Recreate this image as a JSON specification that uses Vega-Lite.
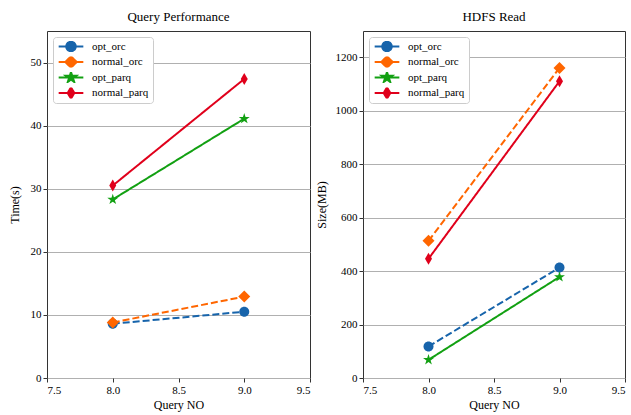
{
  "$schema": "https://vega.github.io/schema/vega-lite/v6.json",
  "padding": {"left": 7, "top": 10, "right": 5, "bottom": 5},
  "background": "white",
  "spacing": 53,
  "bounds": "flush",
  "data": {"values": [
    {"panel": "time", "series": "opt_orc", "q": 8, "v": 8.6},
    {"panel": "time", "series": "opt_orc", "q": 9, "v": 10.5},
    {"panel": "time", "series": "normal_orc", "q": 8, "v": 8.8},
    {"panel": "time", "series": "normal_orc", "q": 9, "v": 12.9},
    {"panel": "time", "series": "opt_parq", "q": 8, "v": 28.3},
    {"panel": "time", "series": "opt_parq", "q": 9, "v": 41.1},
    {"panel": "time", "series": "normal_parq", "q": 8, "v": 30.5},
    {"panel": "time", "series": "normal_parq", "q": 9, "v": 47.4},
    {"panel": "size", "series": "opt_orc", "q": 8, "v": 118},
    {"panel": "size", "series": "opt_orc", "q": 9, "v": 413},
    {"panel": "size", "series": "normal_orc", "q": 8, "v": 513},
    {"panel": "size", "series": "normal_orc", "q": 9, "v": 1160},
    {"panel": "size", "series": "opt_parq", "q": 8, "v": 68},
    {"panel": "size", "series": "opt_parq", "q": 9, "v": 378},
    {"panel": "size", "series": "normal_parq", "q": 8, "v": 446},
    {"panel": "size", "series": "normal_parq", "q": 9, "v": 1110}
  ]},
  "resolve": {"legend": {"color": "independent"}, "scale": {"y": "independent"}},
  "config": {
    "font": "Liberation Serif",
    "view": {"stroke": "#333", "strokeWidth": 1},
    "title": {"font": "Liberation Serif", "fontSize": 13, "fontWeight": "normal", "color": "black", "offset": 7},
    "axis": {
      "labelFont": "Liberation Serif", "labelFontSize": 11, "labelColor": "black",
      "titleFont": "Liberation Serif", "titleFontSize": 12, "titleFontWeight": "normal", "titleColor": "black",
      "tickColor": "#333", "tickSize": 4, "domain": false, "labelPadding": 2
    },
    "legend": {
      "orient": "top-left", "offset": 6, "padding": 4, "fillColor": "white", "strokeColor": "#cccccc",
      "cornerRadius": 3, "labelFont": "Liberation Serif", "labelFontSize": 11, "labelColor": "black",
      "rowPadding": 3.5, "clipHeight": 11, "symbolSize": 90, "symbolOffset": 8, "labelOffset": 15
    }
  },
  "hconcat": [
    {
      "title": "Query Performance",
      "width": 263, "height": 347,
      "transform": [{"filter": "datum.panel == 'time'"}],
      "encoding": {
        "x": {"field": "q", "type": "quantitative", "title": "Query NO",
          "scale": {"domain": [7.5, 9.5], "nice": false, "zero": false},
          "axis": {"values": [7.5, 8, 8.5, 9, 9.5], "format": ".1f", "grid": false, "titlePadding": 4}},
        "y": {"field": "v", "type": "quantitative", "title": "Time(s)",
          "scale": {"domain": [0, 55], "nice": false},
          "axis": {"values": [0, 10, 20, 30, 40, 50], "format": "d", "grid": true, "gridColor": "#b0b0b0", "titlePadding": 9}},
        "color": {"field": "series", "type": "nominal", "sort": ["opt_orc", "normal_orc", "opt_parq", "normal_parq"],
          "scale": {"domain": ["opt_orc", "normal_orc", "opt_parq", "normal_parq"], "range": ["#1764ab", "#ff6600", "#12a012", "#e0001b"]},
          "legend": {"title": null,
            "encode": {
              "symbols": {"update": {
                "shape": {"signal": "datum.value == 'opt_orc' ? 'M-2.6,0H2.6M1,0A1,1,0,1,1,-1,0A1,1,0,1,1,1,0Z' : datum.value == 'normal_orc' ? 'M-2.6,0H2.6M0,-1.2L1.2,0L0,1.2L-1.2,0Z' : datum.value == 'opt_parq' ? 'M-2.6,0H2.6M0,-1.15L0.259,-0.356L1.094,-0.355L0.418,0.136L0.676,0.93L0,0.44L-0.676,0.93L-0.418,0.136L-1.094,-0.355L-0.259,-0.356Z' : 'M-2.6,0H2.6M0,-1.2L0.7,0L0,1.2L-0.7,0Z'"},
                "stroke": {"signal": "datum.value == 'opt_orc' ? '#1764ab' : datum.value == 'normal_orc' ? '#ff6600' : datum.value == 'opt_parq' ? '#12a012' : '#e0001b'"},
                "fill": {"signal": "datum.value == 'opt_orc' ? '#1764ab' : datum.value == 'normal_orc' ? '#ff6600' : datum.value == 'opt_parq' ? '#12a012' : '#e0001b'"},
                "strokeWidth": {"value": 2},
                "strokeDash": {"value": [1, 0]},
                "opacity": {"value": 1}
              }}}}}
      },
      "layer": [
        {
          "mark": {"type": "line", "strokeWidth": 2},
          "encoding": {
            "strokeDash": {"field": "series", "type": "nominal",
              "scale": {"domain": ["opt_orc", "normal_orc", "opt_parq", "normal_parq"], "range": [[7, 3], [7, 3], [1, 0], [1, 0]]}, "legend": null}
          }
        },
        {
          "mark": {"type": "point", "filled": true, "opacity": 1, "size": 100},
          "encoding": {
            "shape": {"field": "series", "type": "nominal", "legend": null,
              "scale": {"domain": ["opt_orc", "normal_orc", "opt_parq", "normal_parq"], "range": [
                "M1,0A1,1,0,1,1,-1,0A1,1,0,1,1,1,0Z",
                "M0,-1.2L1.2,0L0,1.2L-1.2,0Z",
                "M0,-1.15L0.259,-0.356L1.094,-0.355L0.418,0.136L0.676,0.93L0,0.44L-0.676,0.93L-0.418,0.136L-1.094,-0.355L-0.259,-0.356Z",
                "M0,-1.2L0.7,0L0,1.2L-0.7,0Z"]}}
          }
        }
      ]
    },
    {
      "title": "HDFS Read",
      "width": 262, "height": 347,
      "transform": [{"filter": "datum.panel == 'size'"}],
      "encoding": {
        "x": {"field": "q", "type": "quantitative", "title": "Query NO",
          "scale": {"domain": [7.5, 9.5], "nice": false, "zero": false},
          "axis": {"values": [7.5, 8, 8.5, 9, 9.5], "format": ".1f", "grid": false, "titlePadding": 4}},
        "y": {"field": "v", "type": "quantitative", "title": "Size(MB)",
          "scale": {"domain": [0, 1298], "nice": false},
          "axis": {"values": [0, 200, 400, 600, 800, 1000, 1200], "format": "d", "grid": true, "gridColor": "#b0b0b0", "titlePadding": 7}},
        "color": {"field": "series", "type": "nominal", "sort": ["opt_orc", "normal_orc", "opt_parq", "normal_parq"],
          "scale": {"domain": ["opt_orc", "normal_orc", "opt_parq", "normal_parq"], "range": ["#1764ab", "#ff6600", "#12a012", "#e0001b"]},
          "legend": {"title": null,
            "encode": {
              "symbols": {"update": {
                "shape": {"signal": "datum.value == 'opt_orc' ? 'M-2.6,0H2.6M1,0A1,1,0,1,1,-1,0A1,1,0,1,1,1,0Z' : datum.value == 'normal_orc' ? 'M-2.6,0H2.6M0,-1.2L1.2,0L0,1.2L-1.2,0Z' : datum.value == 'opt_parq' ? 'M-2.6,0H2.6M0,-1.15L0.259,-0.356L1.094,-0.355L0.418,0.136L0.676,0.93L0,0.44L-0.676,0.93L-0.418,0.136L-1.094,-0.355L-0.259,-0.356Z' : 'M-2.6,0H2.6M0,-1.2L0.7,0L0,1.2L-0.7,0Z'"},
                "stroke": {"signal": "datum.value == 'opt_orc' ? '#1764ab' : datum.value == 'normal_orc' ? '#ff6600' : datum.value == 'opt_parq' ? '#12a012' : '#e0001b'"},
                "fill": {"signal": "datum.value == 'opt_orc' ? '#1764ab' : datum.value == 'normal_orc' ? '#ff6600' : datum.value == 'opt_parq' ? '#12a012' : '#e0001b'"},
                "strokeWidth": {"value": 2},
                "strokeDash": {"value": [1, 0]},
                "opacity": {"value": 1}
              }}}}}
      },
      "layer": [
        {
          "mark": {"type": "line", "strokeWidth": 2},
          "encoding": {
            "strokeDash": {"field": "series", "type": "nominal",
              "scale": {"domain": ["opt_orc", "normal_orc", "opt_parq", "normal_parq"], "range": [[7, 3], [7, 3], [1, 0], [1, 0]]}, "legend": null}
          }
        },
        {
          "mark": {"type": "point", "filled": true, "opacity": 1, "size": 100},
          "encoding": {
            "shape": {"field": "series", "type": "nominal", "legend": null,
              "scale": {"domain": ["opt_orc", "normal_orc", "opt_parq", "normal_parq"], "range": [
                "M1,0A1,1,0,1,1,-1,0A1,1,0,1,1,1,0Z",
                "M0,-1.2L1.2,0L0,1.2L-1.2,0Z",
                "M0,-1.15L0.259,-0.356L1.094,-0.355L0.418,0.136L0.676,0.93L0,0.44L-0.676,0.93L-0.418,0.136L-1.094,-0.355L-0.259,-0.356Z",
                "M0,-1.2L0.7,0L0,1.2L-0.7,0Z"]}}
          }
        }
      ]
    }
  ]
}
